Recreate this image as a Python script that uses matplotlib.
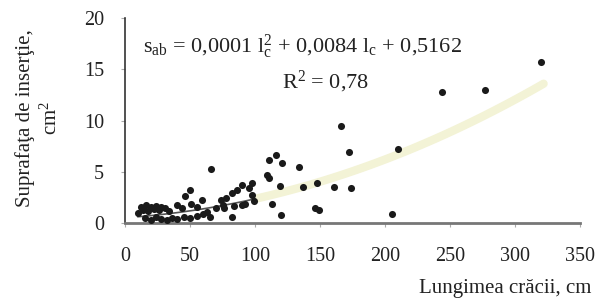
import numpy as np
import matplotlib.pyplot as plt
from matplotlib import rcParams

# branch length (cm) and insertion area (cm2)
lungime = [10, 12, 14, 16, 18, 20, 22, 24, 26, 28, 31, 34, 40, 44, 51, 55, 59, 46, 50, 66,
           15, 20, 24, 28, 32, 36, 40, 45, 50, 55, 60, 63, 65, 70, 75,
           74, 76, 78, 82, 84, 86, 90, 92, 95, 98, 99, 82, 90, 98,
           109, 111, 111, 116, 121, 134, 113, 119, 120, 137, 146, 148, 149,
           161, 166, 172, 174, 205, 210, 244, 277, 320]
suprafata = [1.0, 1.6, 1.3, 1.8, 1.2, 1.6, 1.4, 1.7, 1.3, 1.6, 1.5, 1.2, 1.8, 1.5, 1.9, 1.6, 2.2, 2.6, 3.2, 5.3,
             0.5, 0.3, 0.6, 0.4, 0.3, 0.5, 0.4, 0.6, 0.5, 0.7, 0.9, 1.1, 0.6, 1.5, 1.8,
             2.2, 1.5, 2.4, 2.9, 1.7, 3.2, 3.7, 1.9, 3.4, 3.9, 2.1, 0.6, 1.8, 2.7,
             4.7, 4.4, 6.1, 6.6, 5.9, 5.5, 1.9, 3.6, 0.8, 3.5, 1.5, 3.9, 1.3,
             3.5, 9.5, 6.9, 3.4, 0.9, 7.2, 12.8, 13.0, 15.7]

# trend line coefficients (a*x^2 + b*x + c)
coef = [0.0001, 0.0084, 0.5162]

xticks = [0, 50, 100, 150, 200, 250, 300, 350]
yticks = [0, 5, 10, 15, 20]

rcParams['font.family'] = 'serif'
rcParams['font.serif'] = ['Liberation Serif', 'DejaVu Serif']
rcParams['mathtext.fontset'] = 'custom'
rcParams['mathtext.rm'] = 'Liberation Serif'
rcParams['mathtext.it'] = 'Liberation Serif'

W, H = 608, 300
fig = plt.figure(figsize=(W / 100, H / 100), dpi=100, facecolor='white')
# axes box in pixels: x 125..580, y 18..223 (from top)
ax = fig.add_axes([125 / W, 1 - 223 / H, 455 / W, 205 / H])

# trend line: dark in the dense part, pale yellow further on
xa = np.linspace(10, 100, 50)
xb = np.linspace(100, 322, 80)
ax.plot(xb, np.polyval(coef, xb), color='#f3f3d6', linewidth=6, zorder=1,
        solid_capstyle='round')
ax.plot(xa, np.polyval(coef, xa), color='#555555', linewidth=1.2, zorder=2)

ax.scatter(lungime, suprafata, s=26, color='#1a1a1a', zorder=3, linewidths=0)

ax.set_xlim(0, 350)
ax.set_ylim(0, 20)
ax.set_xticks(xticks)
ax.set_yticks(yticks)

for s in ['top', 'right']:
    ax.spines[s].set_visible(False)
ax.spines['left'].set_color('#333333')
ax.spines['left'].set_linewidth(1.2)
ax.spines['bottom'].set_color('#777777')
ax.spines['bottom'].set_linewidth(2)

ax.tick_params(axis='both', labelsize=14.5, length=3, color='#aaaaaa', width=0.8,
               labelcolor='#222222')
ax.tick_params(axis='x', pad=14)
ax.tick_params(axis='y', pad=12)

# axis titles placed in figure pixels
fig.text(505 / W, 1 - 289 / H, 'Lungimea crăcii, cm', fontsize=15,
         ha='center', va='center', color='#222222')
fig.text(38 / W, 1 - 118 / H, 'Suprafaţa de inserţie,\ncm$^2$', fontsize=15,
         rotation=90, ha='center', va='center', multialignment='center',
         linespacing=1.35, color='#222222')

# equation and R2 of the trend line
fig.text(143 / W, 1 - 47 / H,
         r'$\mathrm{s_{ab}}$ = 0,0001 $\mathrm{l_c^2}$ + 0,0084 $\mathrm{l_c}$ + 0,5162',
         ha='left', va='center', fontsize=16, color='#222222')
fig.text(326 / W, 1 - 82 / H, 'R$^2$ = 0,78', ha='center', va='center',
         fontsize=16, color='#222222')

fig.savefig('out.png', dpi=100, facecolor='white')
